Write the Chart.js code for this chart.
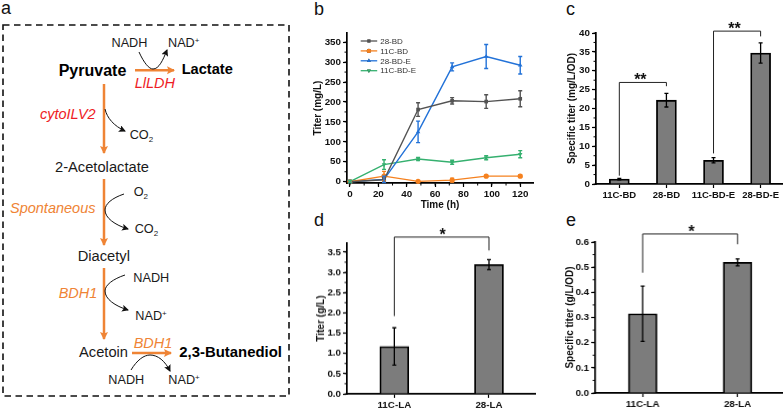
<!DOCTYPE html>
<html>
<head>
<meta charset="utf-8">
<title>Titer panels</title>
<script src="https://cdn.jsdelivr.net/npm/chart.js@4"></script>
<style>
    html, body { margin: 0; padding: 0; background: #fff; }
    body { position: relative; width: 784px; height: 408px; overflow: hidden; }
    canvas { position: absolute; }
    #diagram { position: absolute; left: 0; top: 0; font-family: "Liberation Sans", Arial, sans-serif; }
    #diagram text { fill: #1a1a1a; }
    #diagram .enz { font-style: italic; font-size: 14.5px; }
    #diagram .red { fill: #ee1c25; }
    #diagram .org { fill: #ef8435; }
    #diagram .bold { font-weight: bold; fill: #000; }
    #diagram .met { font-size: 14.7px; }
    #diagram .co { font-size: 12.7px; }
    #diagram .letter { font-size: 18px; fill: #111; }
    #diagram .flow { stroke: #ef8435; stroke-width: 2.5; fill: none; }
    #diagram .curve { stroke: #111; stroke-width: 1; fill: none; }
</style>
</head>
<body>
<svg id="diagram" width="784" height="408" xmlns="http://www.w3.org/2000/svg">
    <defs>
        <marker id="headOrange" markerUnits="userSpaceOnUse" markerWidth="9" markerHeight="9" refX="7" refY="4" orient="auto">
            <path d="M0,0 L8,4 L0,8 L1.5,4 Z" fill="#ef8435"/>
        </marker>
        <marker id="headBlack" markerUnits="userSpaceOnUse" markerWidth="8" markerHeight="8" refX="6" refY="3.5" orient="auto">
            <path d="M0,0 L7,3.5 L0,7 L1.5,3.5 Z" fill="#111"/>
        </marker>
    </defs>
    <rect x="3" y="25" width="286" height="371" fill="none" stroke="#111" stroke-width="1.6" stroke-dasharray="6.5 4.5"/>

    <text class="letter" x="1" y="14">a</text>
    <text class="letter" x="314" y="15">b</text>
    <text class="letter" x="566" y="15">c</text>
    <text class="letter" x="314" y="226">d</text>
    <text class="letter" x="566" y="226">e</text>

    <line class="flow" x1="135" y1="70.3" x2="174" y2="70.3" marker-end="url(#headOrange)"/>
    <line class="flow" x1="104" y1="84" x2="104" y2="153" marker-end="url(#headOrange)"/>
    <line class="flow" x1="104" y1="179" x2="104" y2="245" marker-end="url(#headOrange)"/>
    <line class="flow" x1="104" y1="268" x2="104" y2="339" marker-end="url(#headOrange)"/>
    <line class="flow" x1="132" y1="353" x2="171" y2="353" marker-end="url(#headOrange)"/>

    <path class="curve" d="M139,52 C144,63 149,69 153,69 C159,69 163,60 167,50" marker-end="url(#headBlack)"/>
    <path class="curve" d="M105,109 C107,118 114,126 125,131" marker-end="url(#headBlack)"/>
    <path class="curve" d="M124,194 C112,198 105,204 105,210 C105,218 115,225 128,229" marker-end="url(#headBlack)"/>
    <path class="curve" d="M125,275 C113,279 105,285 105,291 C105,299 115,306 128,310" marker-end="url(#headBlack)"/>
    <path class="curve" d="M131,370 C137,360 144,355 150,355 C158,355 165,361 170,371" marker-end="url(#headBlack)"/>

    <text class="co" x="111.5" y="46.7">NADH</text>
    <text class="co" x="168" y="46.7">NAD<tspan font-size="8" dy="-4">+</tspan></text>
    <text class="bold" font-size="16" x="58.7" y="76">Pyruvate</text>
    <text class="bold" font-size="14.6" x="181.7" y="74.3">Lactate</text>
    <text class="enz red" x="134.7" y="87.7">LlLDH</text>
    <text class="enz red" x="40" y="119">cytoILV2</text>
    <text class="co" x="129.7" y="139">CO<tspan font-size="8" dy="3">2</tspan></text>
    <text class="met" x="55" y="172">2-Acetolactate</text>
    <text class="co" x="133.7" y="196">O<tspan font-size="8" dy="3">2</tspan></text>
    <text class="enz org" x="10" y="213.3">Spontaneous</text>
    <text class="co" x="134.7" y="233.3">CO<tspan font-size="8" dy="3">2</tspan></text>
    <text class="met" x="77.7" y="260.7">Diacetyl</text>
    <text class="co" x="133.3" y="282">NADH</text>
    <text class="enz org" x="58.7" y="297.7">BDH1</text>
    <text class="co" x="135.3" y="320.3">NAD<tspan font-size="8" dy="-4">+</tspan></text>
    <text class="met" x="79" y="356.7">Acetoin</text>
    <text class="enz org" x="133.7" y="347.7">BDH1</text>
    <text class="bold" font-size="14.9" x="179.3" y="357.3">2,3-Butanediol</text>
    <text class="co" x="108.3" y="384.3">NADH</text>
    <text class="co" x="168.3" y="384.3">NAD<tspan font-size="8" dy="-4">+</tspan></text>
</svg>

<canvas id="chartB"></canvas>
<canvas id="chartC"></canvas>
<canvas id="chartD"></canvas>
<canvas id="chartE"></canvas>

<script>
// panel b, time course
const hours = [0, 24, 48, 72, 96, 120];
const bd28 = [0, 5, 181, 203, 201, 208];
const bd28Err = [2, 5, 17, 8, 17, 20];
const bd11c = [0, 14, 1, 4, 14, 14];
const bd11cErr = [2, 12, 1, 5, 2, 3];
const bdE28 = [0, 6, 125, 288, 314, 292];
const bdE28Err = [3, 8, 27, 10, 30, 22];
const bdE11c = [0, 43, 57, 49, 60, 69];
const bdE11cErr = [3, 12, 4, 5, 5, 9];

// panel c
const labelsC = ['11C-BD', '28-BD', '11C-BD-E', '28-BD-E'];
const valuesC = [1.3, 22.2, 6.3, 34.7];
const errorsC = [0.2, 1.8, 0.7, 2.7];

// panel d
const labelsD = ['11C-LA', '28-LA'];
const valuesD = [1.17, 3.19];
const errorsD = [0.46, 0.125];

// panel e
const labelsE = ['11C-LA', '28-LA'];
const valuesE = [0.315, 0.519];
const errorsE = [0.11, 0.014];

const FONT = '"Liberation Sans", Arial, sans-serif';
const Y_GUTTER = 45;
const X_GUTTER = 30;
const PAD_TOP = 28;
const PAD_RIGHT = 2;

// error bars, minor ticks, significance brackets and the line legend
const extras = {
    id: 'extras',
    afterDatasetsDraw(chart, args, opts) {
        const ctx = chart.ctx;
        const x = chart.scales.x, y = chart.scales.y;
        ctx.save();

        chart.data.datasets.forEach(ds => {
            ctx.strokeStyle = ds.errColor;
            ctx.lineWidth = ds.errWidth;
            ds.data.forEach((p, i) => {
                const px = x.getPixelForValue(p.x);
                const top = y.getPixelForValue(p.y + ds.errors[i]);
                const bot = y.getPixelForValue(p.y - ds.errors[i]);
                ctx.beginPath();
                ctx.moveTo(px, top); ctx.lineTo(px, bot);
                ctx.moveTo(px - 2, top); ctx.lineTo(px + 2, top);
                ctx.moveTo(px - 2, bot); ctx.lineTo(px + 2, bot);
                ctx.stroke();
            });
        });

        // minor ticks, shorter than the library's major ones
        ctx.strokeStyle = '#000';
        ctx.lineWidth = 1;
        const area = chart.chartArea;
        if (opts.minorX) {
            for (let v = Math.ceil(x.min / opts.minorX) * opts.minorX; v <= x.max; v += opts.minorX) {
                const px = x.getPixelForValue(v);
                ctx.beginPath(); ctx.moveTo(px, area.bottom); ctx.lineTo(px, area.bottom + 2.5); ctx.stroke();
            }
        }
        if (opts.minorY) {
            for (let v = Math.ceil(y.min / opts.minorY) * opts.minorY; v <= y.max + 1e-9; v += opts.minorY) {
                const py = y.getPixelForValue(v);
                ctx.beginPath(); ctx.moveTo(area.left, py); ctx.lineTo(area.left - 2.5, py); ctx.stroke();
            }
        }

        (opts.brackets || []).forEach(b => {
            const x1 = x.getPixelForValue(b.from), x2 = x.getPixelForValue(b.to);
            const top = y.getPixelForValue(b.top);
            ctx.strokeStyle = '#222';
            ctx.lineWidth = 1;
            ctx.beginPath();
            ctx.moveTo(x1, y.getPixelForValue(b.startY));
            ctx.lineTo(x1, top);
            ctx.lineTo(x2, top);
            ctx.lineTo(x2, y.getPixelForValue(b.endY));
            ctx.stroke();
            ctx.fillStyle = '#111';
            ctx.font = 'bold 16px ' + FONT;
            ctx.textAlign = 'center';
            ctx.textBaseline = 'alphabetic';
            ctx.fillText(b.mark, x.getPixelForValue(b.markX), top + 3);
        });

        if (opts.legend) {
            const L = opts.legend;
            const lx = L.x - chart.canvas.offsetLeft;
            ctx.font = '8px ' + FONT;
            ctx.textAlign = 'left';
            ctx.textBaseline = 'middle';
            chart.data.datasets.forEach((ds, i) => {
                const ly = L.y - chart.canvas.offsetTop + i * L.gap;
                ctx.strokeStyle = ds.borderColor;
                ctx.lineWidth = 1.3;
                ctx.beginPath(); ctx.moveTo(lx, ly); ctx.lineTo(lx + 16.5, ly); ctx.stroke();
                Chart.helpers.drawPoint(ctx, {
                    pointStyle: ds.pointStyle, rotation: ds.pointRotation || 0,
                    radius: 2.2, borderWidth: 0
                }, lx + 8.2, ly);
                ctx.fillStyle = ds.borderColor;
                ctx.fill();
                ctx.fillStyle = '#333';
                ctx.fillText(ds.label, lx + 19.5, ly + 0.5);
            });
        }
        ctx.restore();
    }
};

function baseScale(opts) {
    return {
        type: 'linear',
        offset: false,
        min: opts.min,
        max: opts.max,
        border: { color: '#000', width: 1.7 },
        grid: { drawOnChartArea: false, drawTicks: true, tickLength: 4, tickColor: '#000', tickWidth: 1.2, offset: false },
        ticks: {
            color: '#111',
            font: { family: FONT, weight: 'bold', size: opts.size || 9.8 },
            padding: opts.pad === undefined ? 2 : opts.pad,
            stepSize: opts.step,
            includeBounds: false,
            autoSkip: false,
            maxRotation: 0,
            callback: opts.labels ? (v => opts.labels[v]) : (v => opts.digits === undefined ? v : v.toFixed(opts.digits))
        }
    };
}

function axisTitle(text, padding) {
    return { display: true, text: text, color: '#111', font: { family: FONT, weight: 'bold', size: 10, lineHeight: 1.2 }, padding: padding };
}

// place a canvas so the plot area lands on the given page pixels
function makeChart(id, box, config) {
    const canvas = document.getElementById(id);
    const w = box.right - box.left + Y_GUTTER + PAD_RIGHT;
    const h = box.bottom - box.top + X_GUTTER + PAD_TOP;
    canvas.width = w;
    canvas.height = h;
    canvas.style.left = (box.left - Y_GUTTER) + 'px';
    canvas.style.top = (box.top - PAD_TOP) + 'px';
    canvas.style.width = w + 'px';
    canvas.style.height = h + 'px';

    config.options.responsive = false;
    config.options.animation = false;
    config.options.layout = { padding: { left: 0, top: PAD_TOP, right: PAD_RIGHT, bottom: 0 } };
    config.options.plugins.legend = { display: false };
    config.options.plugins.tooltip = { enabled: false };
    config.options.scales.x.afterFit = s => { s.height = X_GUTTER; };
    config.options.scales.y.afterFit = s => { s.width = Y_GUTTER; };
    config.plugins = [extras];
    return new Chart(canvas.getContext('2d'), config);
}

function toPoints(xs, ys) {
    return ys.map((v, i) => ({ x: xs[i], y: v }));
}

function barSet(values, errors, width) {
    return {
        data: toPoints(values.map((v, i) => i), values),
        errors: errors,
        errColor: '#000',
        errWidth: 1.3,
        backgroundColor: '#7c7c7c',
        borderColor: '#000',
        borderWidth: 1.8,
        barThickness: width
    };
}

function lineSet(label, values, errors, color, style, rotation) {
    return {
        label: label,
        data: toPoints(hours, values),
        errors: errors,
        errColor: color,
        errWidth: 1.4,
        borderColor: color,
        backgroundColor: color,
        borderWidth: 1.4,
        pointStyle: style,
        pointRotation: rotation || 0,
        pointRadius: 2.6,
        pointBorderWidth: 0,
        tension: 0,
        clip: false
    };
}

makeChart('chartB', { left: 347, right: 535, top: 32.7, bottom: 183.3 }, {
    type: 'line',
    data: {
        datasets: [
            lineSet('28-BD', bd28, bd28Err, '#535353', 'rect'),
            lineSet('11C-BD', bd11c, bd11cErr, '#f5811f', 'circle'),
            lineSet('28-BD-E', bdE28, bdE28Err, '#2272d8', 'triangle'),
            lineSet('11C-BD-E', bdE11c, bdE11cErr, '#35b06f', 'triangle', 180)
        ]
    },
    options: {
        plugins: { extras: { minorX: 10, minorY: 25, legend: { x: 360.7, y: 41, gap: 9.9 } } },
        scales: {
            x: Object.assign(baseScale({ min: -2.1, max: 129, step: 20, pad: 1.5 }), { title: axisTitle('Time (h)', { top: 0, bottom: 1.5 }) }),
            y: Object.assign(baseScale({ min: -3.2, max: 373, step: 50 }), { title: axisTitle('Titer (mg/L)', { top: 10.3, bottom: 0 }) })
        }
    }
});

makeChart('chartC', { left: 595.7, right: 781.7, top: 32.7, bottom: 184 }, {
    type: 'bar',
    data: { datasets: [barSet(valuesC, errorsC, 20)] },
    options: {
        plugins: {
            extras: {
                minorY: 2.5,
                brackets: [
                    { from: 0, to: 1, startY: 2.2, top: 26.9, endY: 25.9, mark: '**', markX: 0.447 },
                    { from: 2, to: 3, startY: 8.1, top: 40.5, endY: 39.1, mark: '**', markX: 2.447 }
                ]
            }
        },
        scales: {
            x: baseScale({ min: -0.495, max: 3.454, step: 1, labels: labelsC, size: 9.5, pad: 1.5 }),
            y: Object.assign(baseScale({ min: 0, max: 40, step: 5 }), { title: axisTitle('Specific titer (mg/L/OD)', { top: 15, bottom: 0 }) })
        }
    }
});

makeChart('chartD', { left: 347, right: 535, top: 243.3, bottom: 393.7 }, {
    type: 'bar',
    data: { datasets: [barSet(valuesD, errorsD, 29)] },
    options: {
        plugins: {
            extras: {
                minorY: 0.25,
                brackets: [{ from: 0, to: 1, startY: 1.92, top: 3.87, endY: 3.54, mark: '*', markX: 0.51 }]
            }
        },
        scales: {
            x: baseScale({ min: -0.5, max: 1.486, step: 1, labels: labelsD, size: 9.8, pad: 1.5 }),
            y: Object.assign(baseScale({ min: 0, max: 3.72, step: 0.5, digits: 1 }), { title: axisTitle('Titer (g/L)', { top: 13.7, bottom: 0 }) })
        }
    }
});

makeChart('chartE', { left: 595.3, right: 781.7, top: 242, bottom: 393 }, {
    type: 'bar',
    data: { datasets: [barSet(valuesE, errorsE, 28.5)] },
    options: {
        plugins: {
            extras: {
                minorY: 0.05,
                brackets: [{ from: 0, to: 1, startY: 0.478, top: 0.632, endY: 0.591, mark: '*', markX: 0.514 }]
            }
        },
        scales: {
            x: baseScale({ min: -0.5, max: 1.468, step: 1, labels: labelsE, size: 9.8, pad: 1.5 }),
            y: Object.assign(baseScale({ min: 0, max: 0.6, step: 0.1, digits: 1 }), { title: axisTitle('Specific titer (g/L/OD)', { top: 14.4, bottom: 0 }) })
        }
    }
});
</script>
</body>
</html>
